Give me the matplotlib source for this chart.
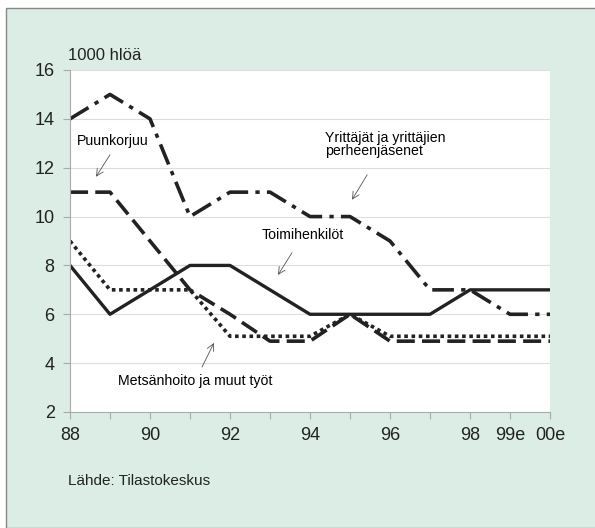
import numpy as np
import matplotlib.pyplot as plt

plt.rcParams['font.family'] = ['Liberation Sans', 'DejaVu Sans']

# Vuodet ja sarjat (1000 henkilöä)
vuodet = ['88', '89', '90', '91', '92', '93', '94', '95', '96', '97', '98', '99e', '00e']
yrittajat = [14, 15, 14, 10, 11, 11, 10, 10, 9, 7, 7, 6, 6]
puunkorjuu = [11, 11, 9, 7, 6, 4.9, 4.9, 6, 4.9, 4.9, 4.9, 4.9, 4.9]
metsanhoito = [9, 7, 7, 7, 5.1, 5.1, 5.1, 6, 5.1, 5.1, 5.1, 5.1, 5.1]
toimihenkilot = [8, 6, 7, 8, 8, 7, 6, 6, 6, 6, 7, 7, 7]
nayta_tunnus = ['88', '90', '92', '94', '96', '98', '99e', '00e']

tausta = '#dcede6'
x = np.arange(len(vuodet))

fig = plt.figure(figsize=(5.95, 5.28), dpi=100)
fig.patch.set_facecolor('white')
# vaalea taustalaatikko
fig.patches.append(plt.Rectangle((6/595, 0), 1, 1 - 8/528, transform=fig.transFigure,
                                 facecolor=tausta, edgecolor='#888888', lw=1, zorder=-1))

ax = fig.add_axes([70/595, 1 - 412/528, 480/595, 342/528])
ax.set_facecolor('white')

ax.plot(x, yrittajat, color='#222222', lw=2.6, dashes=(6, 2, 1.2, 2))
ax.plot(x, puunkorjuu, color='#222222', lw=2.6, dashes=(5, 2))
ax.plot(x, metsanhoito, color='#222222', lw=2.6, dashes=(1, 1))
ax.plot(x, toimihenkilot, color='#222222', lw=2.4)

ax.set_xlim(0, len(vuodet) - 1)
ax.set_ylim(2, 16)
ax.set_yticks(range(2, 17, 2))
ax.set_xticks(x)
ax.set_xticklabels([v if v in nayta_tunnus else '' for v in vuodet])
ax.yaxis.grid(True, color='#dddddd', lw=0.8)
ax.set_axisbelow(True)
for s in ['top', 'right']:
    ax.spines[s].set_visible(False)
for s in ['left', 'bottom']:
    ax.spines[s].set_color('#aaaaaa')
ax.tick_params(colors='#aaaaaa', labelcolor='#222222', labelsize=13, length=5, pad=6)

# selitteet ja lyhyet nuolet
nuoli = dict(arrowstyle='->, head_length=0.5, head_width=0.25', color='#555555', lw=0.6,
             shrinkA=0, shrinkB=0)
ax.text(0.18, 13.1, 'Puunkorjuu', fontsize=10.2, va='center')
ax.annotate('', xy=(0.65, 11.63), xytext=(1.0, 12.53), arrowprops=nuoli)
ax.text(6.38, 12.95, 'Yrittäjät ja yrittäjien\nperheenjäsenet', fontsize=10.2, va='center',
        linespacing=0.95)
ax.annotate('', xy=(7.05, 10.69), xytext=(7.43, 11.71), arrowprops=nuoli)
ax.text(4.8, 9.25, 'Toimihenkilöt', fontsize=10.2, va='center')
ax.annotate('', xy=(5.2, 7.61), xytext=(5.55, 8.52), arrowprops=nuoli)
ax.text(1.2, 3.27, 'Metsänhoito ja muut työt', fontsize=10.2, va='center')
ax.annotate('', xy=(3.6, 4.83), xytext=(3.3, 3.84), arrowprops=nuoli)

fig.text(68/595, 1 - 56/528, '1000 hlöä', fontsize=12, color='#222222', va='center')
fig.text(68/595, 1 - 481/528, 'Lähde: Tilastokeskus', fontsize=11, color='#222222', va='center')

fig.savefig('out.png', dpi=100)
